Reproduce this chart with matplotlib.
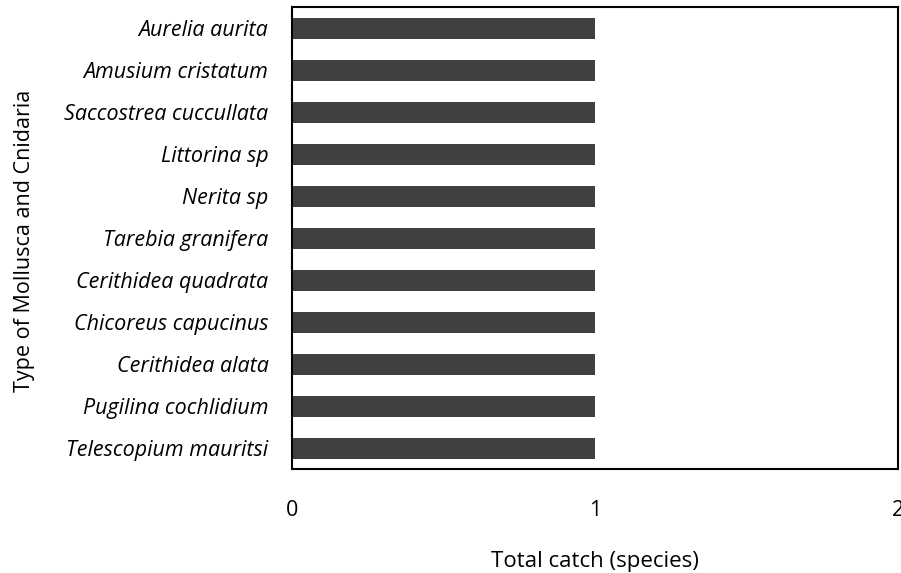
import matplotlib
matplotlib.use('Agg')
import matplotlib.pyplot as plt

# species, listed bottom to top as drawn
species = [
    "Telescopium mauritsi",
    "Pugilina cochlidium",
    "Cerithidea alata",
    "Chicoreus capucinus",
    "Cerithidea quadrata",
    "Tarebia granifera",
    "Nerita sp",
    "Littorina sp",
    "Saccostrea cuccullata",
    "Amusium cristatum",
    "Aurelia aurita",
]
catch = [1, 1, 1, 1, 1, 1, 1, 1, 1, 1, 1]
x_ticks = [0, 1, 2]

plt.rcParams['font.family'] = ['Open Sans', 'DejaVu Sans']

fig = plt.figure(figsize=(9.01, 5.73), dpi=100)
ax = fig.add_axes([292 / 901, 1 - 469 / 573, 606 / 901, 462 / 573])

ypos = list(range(len(species)))
ax.barh(ypos, catch, height=0.5, color='#404040')

ax.set_xlim(0, 2)
ax.set_ylim(-0.5, len(species) - 0.5)
ax.set_yticks(ypos)
ax.set_yticklabels(species, fontstyle='italic', fontsize=15.5)
ax.set_xticks(x_ticks)
ax.set_xticklabels([str(t) for t in x_ticks], fontsize=15.5)
ax.tick_params(axis='both', length=0)
ax.tick_params(axis='y', pad=17)
ax.tick_params(axis='x', pad=22)

for s in ax.spines.values():
    s.set_linewidth(1.5)
    s.set_color('black')

fig.text(25 / 901, 1 - 241 / 573, "Type of Mollusca and Cnidaria", rotation=90,
         ha='center', va='center', fontsize=15.5)
fig.text(595 / 901, 1 - 561 / 573, "Total catch (species)",
         ha='center', va='center', fontsize=16)

fig.savefig('out.png', dpi=100)
